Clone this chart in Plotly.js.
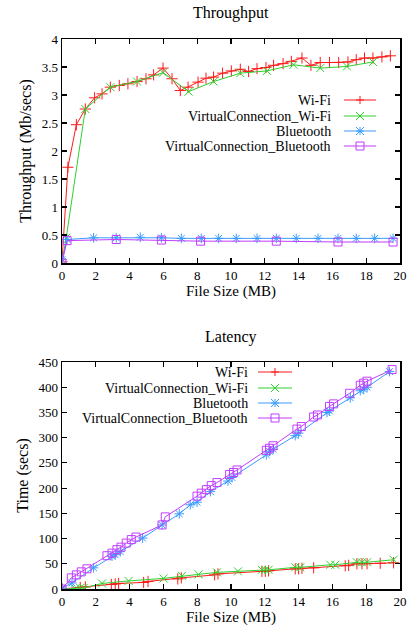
<!DOCTYPE html>
<html>
<head>
<meta charset="utf-8">
<script src="https://cdn.plot.ly/plotly-3.0.1.min.js"></script>
<style>
html,body{margin:0;padding:0;background:#fff;}
#chart{width:411px;height:626px;}
</style>
</head>
<body>
<div id="chart"></div>
<script>
// ---- Throughput (Mb/secs) vs File Size (MB) ----
const tpWifiX = [0, 0.35, 0.85, 1.38, 1.93, 2.37, 2.86, 3.39, 3.9, 4.44, 4.97, 5.42, 5.98, 6.51, 7.0, 7.46, 8.05, 8.52, 8.97, 9.5, 10.02, 10.55, 11.04, 11.54, 12.07, 12.52, 13.08, 13.57, 14.2, 14.73, 15.28, 15.83, 16.37, 16.92, 17.41, 17.9, 18.4, 18.93, 19.43];
const tpWifiY = [0.02, 1.71, 2.47, 2.75, 2.95, 3.02, 3.14, 3.17, 3.2, 3.24, 3.29, 3.36, 3.48, 3.29, 3.08, 3.14, 3.23, 3.3, 3.32, 3.39, 3.43, 3.46, 3.42, 3.47, 3.49, 3.53, 3.56, 3.6, 3.66, 3.53, 3.58, 3.58, 3.58, 3.59, 3.63, 3.66, 3.66, 3.68, 3.7];

const tpVcWifiX = [0, 0.25, 1.38, 2.86, 4.44, 5.98, 7.49, 8.97, 10.55, 12.13, 13.7, 15.28, 16.86, 18.4];
const tpVcWifiY = [0.02, 0.45, 2.75, 3.14, 3.24, 3.4, 3.06, 3.24, 3.39, 3.43, 3.54, 3.48, 3.51, 3.59];

const tpBtX = [0, 0.3, 1.87, 3.21, 4.63, 5.88, 7.06, 8.24, 9.27, 10.31, 11.54, 12.68, 13.86, 15.15, 16.33, 17.41, 18.5, 19.59];
const tpBtY = [0.06, 0.42, 0.45, 0.45, 0.46, 0.45, 0.44, 0.44, 0.44, 0.44, 0.44, 0.44, 0.44, 0.44, 0.44, 0.44, 0.44, 0.44];

const tpVcBtX = [0, 0.3, 3.21, 5.88, 8.2, 12.68, 16.33, 19.59];
const tpVcBtY = [0.0, 0.4, 0.42, 0.41, 0.39, 0.39, 0.375, 0.375];

// ---- Latency (secs) vs File Size (MB) ----
const latWifiX = [0, 1.08, 1.38, 2.92, 3.15, 3.35, 4.83, 5.09, 6.85, 7.06, 9.03, 9.23, 11.83, 12.03, 12.22, 13.8, 14.0, 14.2, 14.89, 16.76, 16.96, 17.45, 17.75, 18.05, 18.83, 19.62];
const latWifiY = [0, 3, 4, 9, 10, 11, 13, 15, 20, 22, 28, 30, 35, 35, 36, 40, 40, 41, 42, 46, 47, 50, 50, 50, 51, 52];

const latVcWifiX = [0, 0.79, 1.08, 1.28, 2.37, 3.94, 6.01, 7.1, 8.08, 9.17, 10.41, 11.83, 12.03, 12.22, 13.8, 14.1, 15.88, 16.17, 17.45, 17.75, 18.05, 19.62];
const latVcWifiY = [0, 1, 2, 2, 11, 16, 21, 26, 29, 33, 35, 38, 38, 38, 43, 43, 48, 48, 53, 53, 53, 58];

const latBtX = [0, 0.59, 1.87, 2.96, 3.15, 3.45, 4.77, 5.92, 6.94, 7.59, 7.99, 8.78, 9.82, 10.06, 12.09, 12.28, 12.49, 13.8, 14.0, 15.68, 15.83, 17.06, 17.65, 17.85, 18.05, 19.38];
const latBtY = [2, 12, 42, 65, 68, 74, 101, 127, 149, 167, 172, 193, 214, 221, 266, 273, 277, 304, 309, 350, 353, 379, 393, 396, 400, 431];

const latVcBtX = [0, 0.55, 0.85, 1.14, 1.48, 2.66, 2.96, 3.25, 3.49, 3.8, 4.1, 4.38, 5.92, 6.11, 7.99, 8.24, 8.54, 8.83, 9.17, 9.92, 10.15, 10.36, 12.09, 12.28, 12.49, 13.9, 14.16, 14.89, 15.12, 15.83, 16.07, 17.02, 17.65, 17.85, 18.05, 19.53];
const latVcBtY = [0, 22, 28, 34, 40, 66, 71, 78, 83, 91, 98, 103, 127, 143, 184, 190, 197, 205, 211, 227, 231, 236, 275, 279, 284, 317, 322, 341, 345, 362, 367, 388, 404, 408, 412, 435];

const seriesNames = ['Wi-Fi', 'VirtualConnection_Wi-Fi', 'Bluetooth', 'VirtualConnection_Bluetooth'];
const seriesColors = ['#ff1a1a', '#2ed12e', '#3b9cff', '#c13dff'];
const seriesSymbols = ['cross-thin-open', 'x-thin-open', 'asterisk-open', 'square-open'];
const xTicks = [0, 2, 4, 6, 8, 10, 12, 14, 16, 18, 20];

const tpX = [tpWifiX, tpVcWifiX, tpBtX, tpVcBtX];
const tpY = [tpWifiY, tpVcWifiY, tpBtY, tpVcBtY];
const latX = [latWifiX, latVcWifiX, latBtX, latVcBtX];
const latY = [latWifiY, latVcWifiY, latBtY, latVcBtY];

const FONT = 'Liberation Serif';
const traces = [];
function addSeries(xs, ys, xa, ya) {
  for (let i = 0; i < 4; i++) {
    traces.push({
      x: xs[i], y: ys[i], name: seriesNames[i], type: 'scatter', mode: 'lines+markers',
      xaxis: xa, yaxis: ya, showlegend: false,
      line: {color: seriesColors[i], width: 1},
      marker: {symbol: seriesSymbols[i], size: 8, color: seriesColors[i], line: {color: seriesColors[i], width: 1}}
    });
  }
}
addSeries(tpX, tpY, 'x', 'y');
addSeries(latX, latY, 'x2', 'y2');

// gnuplot-style key: text right-aligned, then sample line with marker (layout decoration)
const PLOT_L = 62, PLOT_W = 338, PLOT_B = 589, PLOT_H = 550;
const px2x = p => (p - PLOT_L) / PLOT_W;
const py2y = p => (PLOT_B - p) / PLOT_H;
const annotations = [];
const shapes = [];
function addKey(textRight, lineL, lineR, rows) {
  for (let i = 0; i < 4; i++) {
    const yy = py2y(rows[i]);
    annotations.push({text: seriesNames[i], xref: 'paper', yref: 'paper', x: px2x(textRight), y: yy,
      xanchor: 'right', yanchor: 'middle', showarrow: false, font: {family: FONT, size: 14, color: '#000'}});
    const c = seriesColors[i];
    shapes.push({type: 'line', xref: 'paper', yref: 'paper', x0: px2x(lineL), x1: px2x(lineR), y0: yy, y1: yy, line: {color: c, width: 1}});
    const mx = px2x((lineL + lineR) / 2);
    const seg = (x0, y0, x1, y1) => shapes.push({type: 'line', xref: 'paper', yref: 'paper', xsizemode: 'pixel', ysizemode: 'pixel',
      xanchor: mx, yanchor: yy, x0: x0, x1: x1, y0: y0, y1: y1, line: {color: c, width: 1}});
    const r = 4;
    if (i === 0 || i === 2) { seg(-r, 0, r, 0); seg(0, -r, 0, r); }
    if (i === 1 || i === 2) { seg(-r, -r, r, r); seg(-r, r, r, -r); }
    if (i === 3) shapes.push({type: 'rect', xref: 'paper', yref: 'paper', xsizemode: 'pixel', ysizemode: 'pixel',
      xanchor: mx, yanchor: yy, x0: -r, x1: r, y0: -r, y1: r, line: {color: c, width: 1}});
  }
}
addKey(333, 344, 376, [100, 116, 131, 146]);
addKey(250, 258, 292, [372, 388, 403, 418]);

annotations.push({text: 'Throughput', xref: 'paper', yref: 'paper', x: 0.5, y: py2y(13), xanchor: 'center', yanchor: 'middle', showarrow: false, font: {family: FONT, size: 16, color: '#000'}});
annotations.push({text: 'Latency', xref: 'paper', yref: 'paper', x: 0.5, y: py2y(337), xanchor: 'center', yanchor: 'middle', showarrow: false, font: {family: FONT, size: 16, color: '#000'}});

const axisBase = {
  showline: true, mirror: 'ticks', linecolor: '#000', linewidth: 1.5,
  ticks: 'inside', ticklen: 5, tickwidth: 1.2, tickcolor: '#000',
  showgrid: false, zeroline: false,
  tickfont: {family: FONT, size: 13, color: '#000'}
};

const layout = {
  width: 411, height: 626,
  margin: {l: 62, r: 11, t: 39, b: 37},
  paper_bgcolor: '#fff', plot_bgcolor: '#fff',
  font: {family: FONT, color: '#000'},
  hovermode: false, showlegend: false,
  xaxis: Object.assign({}, axisBase, {
    domain: [0, 1], anchor: 'y', range: [0, 20], tickvals: xTicks,
    title: {text: 'File Size (MB)', font: {family: FONT, size: 15, color: '#000'}, standoff: 3}
  }),
  yaxis: Object.assign({}, axisBase, {
    domain: [0.5927, 1], anchor: 'x', range: [0, 4], dtick: 0.5,
    title: {text: 'Throughput (Mb/secs)', font: {family: FONT, size: 16, color: '#000'}, standoff: 6}
  }),
  xaxis2: Object.assign({}, axisBase, {
    domain: [0, 1], anchor: 'y2', range: [0, 20], tickvals: xTicks,
    title: {text: 'File Size (MB)', font: {family: FONT, size: 15, color: '#000'}, standoff: 3}
  }),
  yaxis2: Object.assign({}, axisBase, {
    domain: [0, 0.4127], anchor: 'x2', range: [0, 450], dtick: 50,
    title: {text: 'Time (secs)', font: {family: FONT, size: 16, color: '#000'}, standoff: 6}
  }),
  annotations: annotations,
  shapes: shapes
};

Plotly.newPlot('chart', traces, layout, {staticPlot: true, displayModeBar: false});
</script>
</body>
</html>
